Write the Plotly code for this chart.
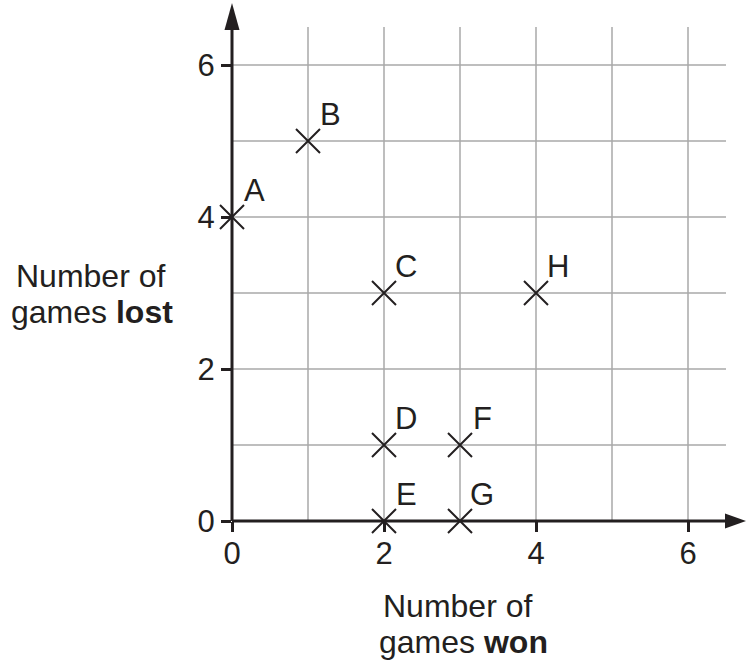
import plotly.graph_objects as go

# Data
labels = ["A", "B", "C", "D", "E", "F", "G", "H"]
games_won = [0, 1, 2, 2, 2, 3, 3, 4]
games_lost = [4, 5, 3, 1, 0, 1, 0, 3]
tick_vals = [0, 2, 4, 6]
grid_vals = [1, 2, 3, 4, 5, 6]

INK = "#231f20"
GRID = "#a8a8a8"
FONT = "Liberation Sans, Arial, Helvetica, sans-serif"

W, H = 746, 665
L, B = 232, 144
UNIT = 76.0
XMAX = (W - L) / UNIT
YMAX = (H - B) / UNIT
GRID_END = 6.5
PW, PH = W - L, H - B


def px(x):
    return x / XMAX


def py(y):
    return y / YMAX


def pap_x(pix):
    return (pix - L) / PW


def pap_y(pix):
    return (PH - pix) / PH


fig = go.Figure()

fig.add_trace(go.Scatter(
    x=games_won, y=games_lost, mode="markers",
    marker=dict(symbol="x-thin", size=24, line=dict(width=2, color=INK), color=INK),
    cliponaxis=False, hoverinfo="skip", showlegend=False,
))

shapes = []
for g in grid_vals:
    shapes.append(dict(type="line", xref="x", yref="y", x0=g, x1=g, y0=0, y1=GRID_END,
                       line=dict(color=GRID, width=1.5), layer="below"))
    shapes.append(dict(type="line", xref="x", yref="y", x0=0, x1=GRID_END, y0=g, y1=g,
                       line=dict(color=GRID, width=1.5), layer="below"))

# axes lines (paper refs so nothing is clipped)
shapes.append(dict(type="line", xref="paper", yref="paper", x0=0, x1=px(6.6), y0=0, y1=0,
                   line=dict(color=INK, width=3)))
shapes.append(dict(type="line", xref="paper", yref="paper", x0=0, x1=0, y0=0, y1=py(6.55),
                   line=dict(color=INK, width=3)))
hw = 7.5 / UNIT
ab = (725 - L) / UNIT
shapes.append(dict(type="path", xref="paper", yref="paper",
                   path=f"M {px(ab)},{py(hw)} L {px(XMAX)},0 L {px(ab)},{py(-hw)} Z",
                   fillcolor=INK, line=dict(color=INK, width=0)))
yb = (521 - 30) / UNIT
yt = (521 - 3) / UNIT
shapes.append(dict(type="path", xref="paper", yref="paper",
                   path=f"M {px(-hw)},{py(yb)} L 0,{py(yt)} L {px(hw)},{py(yb)} Z",
                   fillcolor=INK, line=dict(color=INK, width=0)))

annotations = []
for lab, xv, yv in zip(labels, games_won, games_lost):
    annotations.append(dict(x=xv, y=yv, xref="x", yref="y", text=lab, showarrow=False,
                            xanchor="center", yanchor="middle", xshift=22, yshift=27,
                            font=dict(family=FONT, size=31, color=INK)))

title_lines = [
    ("Number of", 91, 276),
    ("games <b>lost</b>", 92, 312),
    ("Number of", 458, 606),
    ("games <b>won</b>", 463, 642),
]
for txt, cx, cy in title_lines:
    annotations.append(dict(x=pap_x(cx), y=pap_y(cy), xref="paper", yref="paper",
                            text=txt, showarrow=False, xanchor="center", yanchor="middle",
                            font=dict(family=FONT, size=32, color=INK)))

axis_common = dict(showgrid=False, zeroline=False, showline=False,
                   ticks="outside", ticklen=10, tickwidth=2.5, tickcolor=INK,
                   tickmode="array", tickvals=tick_vals,
                   tickfont=dict(family=FONT, size=31, color=INK), fixedrange=True)

fig.update_layout(
    width=W, height=H,
    margin=dict(l=L, r=0, t=0, b=B, pad=0),
    plot_bgcolor="white", paper_bgcolor="white",
    xaxis=dict(range=[0, XMAX], ticklabelstandoff=-5, **axis_common),
    yaxis=dict(range=[0, YMAX], **axis_common),
    shapes=shapes, annotations=annotations,
    showlegend=False,
)

fig.write_html("out.html", config={"displayModeBar": False},
               post_script="document.body.style.margin='0';")
